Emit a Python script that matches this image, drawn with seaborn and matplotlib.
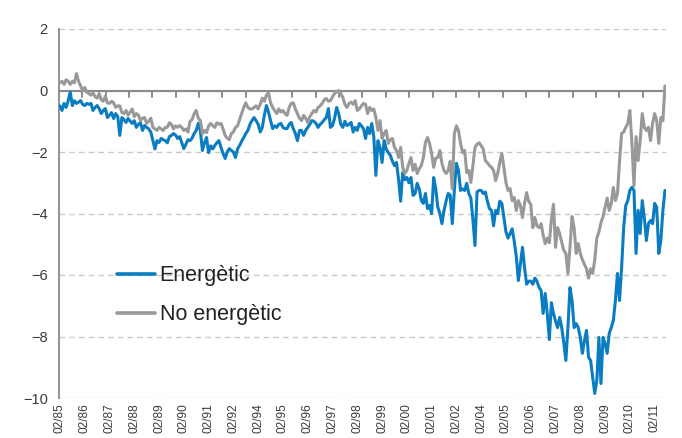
import numpy as np
import pandas as pd
import seaborn as sns
import matplotlib
matplotlib.use("Agg")
import matplotlib.pyplot as plt

# year labels shown on the category axis (one every 12 points)
tick_labels = ["02/85", "02/86", "02/87", "02/88", "02/89", "02/90", "02/91", "02/92",
               "02/94", "02/95", "02/96", "02/97", "02/98", "02/99", "02/00", "02/01",
               "02/02", "02/04", "02/05", "02/06", "02/07", "02/08", "02/09", "02/10",
               "02/11"]

b85 = [-0.5, -0.65, -0.42, -0.55, -0.33, -0.05, -0.49, -0.33, -0.42, -0.38, -0.33, -0.45]
b86 = [-0.49, -0.42, -0.45, -0.42, -0.65, -0.55, -0.49, -0.59, -0.75, -0.65, -0.59, -0.88]
b87 = [-0.8, -0.72, -0.91, -0.75, -0.85, -1.46, -0.88, -0.95, -1.04, -0.91, -1.0, -1.07]
b88 = [-0.98, -1.2, -1.1, -1.04, -1.3, -1.14, -1.2, -1.25, -1.35, -1.63, -1.9, -1.63]
b89 = [-1.69, -1.56, -1.6, -1.63, -1.7, -1.5, -1.46, -1.4, -1.45, -1.56, -1.5, -1.7]
b90 = [-1.89, -1.75, -1.6, -1.63, -1.55, -1.4, -1.3, -1.07, -1.3, -1.95, -1.7, -1.53]
b91 = [-2.02, -1.8, -1.9, -1.79, -1.7, -1.63, -1.85, -2.05, -2.21, -2.0, -1.89, -1.95]
b92 = [-2.0, -2.18, -1.9, -1.79, -1.65, -1.53, -1.4, -1.3, -1.1, -0.98, -0.88, -0.98]
b94 = [-1.1, -1.35, -1.2, -0.8, -0.49, -0.7, -0.98, -1.24, -1.15, -1.2, -1.1, -1.07]
b95 = [-1.2, -1.24, -1.24, -1.1, -1.04, -1.24, -1.4, -1.63, -1.3, -1.3, -1.46, -1.3]
b96 = [-1.2, -1.1, -0.98, -1.0, -1.07, -1.2, -1.1, -1.04, -0.95, -0.88, -0.59, -1.2]
b97 = [-1.14, -0.9, -0.55, -0.75, -1.1, -1.2, -1.0, -1.14, -1.1, -1.04, -1.35, -1.2]
b98 = [-1.3, -1.07, -1.15, -1.24, -1.56, -1.2, -1.4, -1.07, -1.5, -2.76, -1.63, -1.85]
b99 = [-2.34, -1.63, -1.9, -2.02, -2.11, -2.3, -2.44, -2.34, -2.9, -3.6, -2.67, -2.9]
b00 = [-2.83, -3.0, -2.83, -3.41, -3.35, -3.02, -3.2, -3.58, -3.67, -3.35, -3.84, -3.74]
b01 = [-4.0, -2.83, -3.2, -3.8, -4.0, -4.33, -3.9, -3.6, -3.35, -3.4, -4.33, -3.25]
b02 = [-2.37, -2.6, -3.25, -3.2, -3.25, -3.02, -3.35, -3.5, -4.2, -5.04, -3.3, -3.25]
b04 = [-3.25, -3.35, -3.3, -3.6, -3.84, -3.9, -4.4, -3.9, -4.0, -3.6, -3.67, -4.13]
b05 = [-4.6, -4.8, -4.65, -4.5, -4.9, -5.4, -6.18, -5.63, -5.1, -5.76, -6.3, -6.2]
b06 = [-6.2, -6.3, -6.1, -6.2, -6.4, -6.5, -7.25, -6.6, -7.25, -8.1, -6.9, -7.25]
b07 = [-7.5, -7.71, -7.38, -7.71, -8.2, -8.78, -7.71, -6.41, -6.83, -7.71, -7.58, -7.71]
b08 = [-8.03, -8.55, -8.13, -7.8, -8.68, -8.78, -9.33, -9.85, -9.43, -8.03, -9.53, -8.03]
b09 = [-8.23, -8.55, -7.9, -7.71, -7.48, -6.83, -5.95, -6.83, -5.76, -4.46, -3.74, -3.58]
b10 = [-3.25, -3.15, -3.25, -5.3, -3.9, -4.65, -3.58, -4.13, -4.88, -4.33, -4.23, -4.33]
b11 = [-3.67, -3.8, -5.3, -4.88, -3.9, -3.25]

# No energètic (grey)
g85 = [0.25, 0.3, 0.2, 0.35, 0.3, 0.2, 0.3, 0.25, 0.55, 0.3, 0.15, 0.0]
g86 = [0.1, -0.05, -0.1, -0.15, -0.07, -0.2, -0.25, -0.1, -0.3, -0.35, -0.18, -0.4]
g87 = [-0.42, -0.35, -0.4, -0.55, -0.5, -0.5, -0.72, -0.75, -0.65, -0.8, -0.7, -0.6]
g88 = [-0.85, -0.75, -0.8, -0.98, -0.9, -0.88, -1.07, -1.0, -0.9, -1.2, -1.25, -1.3]
g89 = [-1.2, -1.25, -1.3, -1.2, -1.2, -1.05, -1.1, -1.25, -1.15, -1.2, -1.14, -1.2]
g90 = [-1.3, -1.25, -1.35, -1.0, -0.95, -0.75, -0.65, -0.9, -0.98, -1.4, -1.3, -1.37]
g91 = [-1.15, -1.07, -1.15, -1.2, -1.05, -1.1, -1.07, -1.25, -1.46, -1.55, -1.6, -1.4]
g92 = [-1.35, -1.2, -1.15, -0.95, -0.75, -0.55, -0.4, -0.55, -0.6, -0.6, -0.55, -0.5]
g94 = [-0.6, -0.45, -0.25, -0.35, -0.15, -0.08, -0.4, -0.55, -0.65, -0.75, -0.6, -0.7]
g95 = [-0.65, -0.75, -0.81, -0.55, -0.42, -0.4, -0.6, -0.75, -0.9, -0.98, -0.81, -0.9]
g96 = [-1.04, -0.85, -0.75, -0.65, -0.7, -0.55, -0.5, -0.42, -0.3, -0.26, -0.35, -0.33]
g97 = [-0.2, -0.1, -0.05, 0.0, -0.1, -0.23, -0.45, -0.55, -0.42, -0.38, -0.45, -0.33]
g98 = [-0.65, -0.6, -0.5, -0.42, -0.45, -0.75, -0.55, -0.65, -0.6, -0.88, -1.3, -0.98]
g99 = [-1.56, -1.4, -1.3, -1.72, -1.6, -1.56, -1.85, -1.95, -2.18, -1.85, -2.5, -2.7]
g00 = [-2.6, -2.37, -2.18, -2.6, -2.4, -2.7, -2.55, -2.44, -2.18, -1.69, -1.53, -1.72]
g01 = [-2.05, -2.5, -2.2, -2.18, -1.95, -2.37, -2.6, -2.7, -2.6, -2.3, -3.2, -1.4]
g02 = [-1.15, -1.3, -1.72, -2.02, -1.95, -2.67, -2.6, -2.99, -2.44, -1.85, -1.75, -1.7]
g04 = [-1.8, -1.9, -2.28, -2.35, -2.44, -2.5, -2.6, -2.93, -2.7, -2.34, -2.05, -2.5]
g05 = [-3.0, -3.25, -3.19, -3.58, -3.48, -3.9, -3.58, -3.75, -4.13, -3.67, -3.32, -3.6]
g06 = [-3.7, -4.46, -4.13, -4.4, -4.46, -4.33, -4.7, -4.98, -4.8, -4.95, -4.2, -3.7]
g07 = [-5.1, -4.46, -4.65, -4.94, -5.2, -5.3, -5.95, -5.11, -4.1, -4.46, -5.3, -4.98]
g08 = [-5.3, -5.5, -5.65, -5.8, -6.1, -5.8, -5.95, -5.5, -4.8, -4.6, -4.3, -4.1]
g09 = [-3.8, -3.5, -3.9, -3.67, -3.15, -3.58, -3.35, -2.3, -1.4, -1.35, -1.2, -1.07]
g10 = [-0.65, -1.72, -3.1, -1.5, -2.28, -1.63, -0.75, -1.2, -1.3, -1.2, -1.63, -1.07]
g11 = [-0.75, -0.98, -1.72, -0.88, -0.98, 0.15]

energetic = (b85 + b86 + b87 + b88 + b89 + b90 + b91 + b92 + b94 + b95 + b96 + b97 + b98
             + b99 + b00 + b01 + b02 + b04 + b05 + b06 + b07 + b08 + b09 + b10 + b11)
no_energetic = (g85 + g86 + g87 + g88 + g89 + g90 + g91 + g92 + g94 + g95 + g96 + g97 + g98
                + g99 + g00 + g01 + g02 + g04 + g05 + g06 + g07 + g08 + g09 + g10 + g11)

n = len(energetic)
df = pd.DataFrame({
    "idx": list(range(n)) * 2,
    "valor": energetic + no_energetic,
    "serie": ["Energètic"] * n + ["No energètic"] * n,
})

BLUE = "#0a7dc2"
GREY = "#999999"
AXIS = "#8a8a8a"
TEXT = "#3a3a3a"

sns.set_style("white")
plt.rcParams["font.family"] = ["Liberation Sans", "DejaVu Sans"]

fig, ax = plt.subplots(figsize=(6.82, 4.38), dpi=100)
fig.subplots_adjust(left=58.9 / 682, right=666 / 682, bottom=40 / 438, top=409 / 438)

sns.lineplot(data=df, x="idx", y="valor", hue="serie", palette=[BLUE, GREY],
             estimator=None, linewidth=2.2, ax=ax, zorder=3)

ax.set_xlim(-0.5, n - 0.5)
ax.set_ylim(-10, 2)

# category axis crosses at zero, tick marks hang below it (drawn under the lines)
ax.axhline(0, color=AXIS, linewidth=1.5, zorder=2)
for xt in np.linspace(-0.5, n - 0.5, 27):
    ax.axvline(xt, ymin=9.8 / 12, ymax=10 / 12, color=AXIS, linewidth=1.4, zorder=2)

ax.set_yticks(np.arange(-10, 3, 2))
ax.set_xticks(np.arange(0, 12 * len(tick_labels), 12))
ax.set_xticklabels(tick_labels, rotation=90)
ax.set_xlabel("")
ax.set_ylabel("")

ax.yaxis.grid(True, linestyle=(0, (4, 3)), color="#c9c9c9", linewidth=1)
ax.xaxis.grid(False)
ax.set_axisbelow(True)
for s in ["top", "right", "bottom"]:
    ax.spines[s].set_visible(False)
ax.spines["left"].set_color(AXIS)
ax.spines["left"].set_linewidth(1.3)
ax.tick_params(axis="y", direction="out", length=5, width=1.2, color=AXIS,
               labelsize=10.5, labelcolor=TEXT, pad=3)
ax.tick_params(axis="x", length=0, labelsize=8.6, labelcolor=TEXT, pad=4)

handles, labels = ax.get_legend_handles_labels()
leg = ax.legend(handles[:2], labels[:2], loc="upper left", bbox_to_anchor=(0.095, 0.36),
                frameon=False, fontsize=15.5, handlelength=1.8, handletextpad=0.2,
                labelspacing=0.85, borderpad=0, borderaxespad=0)
for t in leg.get_texts():
    t.set_color("#222222")
for h in leg.get_lines():
    h.set_linewidth(2.6)

fig.savefig("out.png", dpi=100)
